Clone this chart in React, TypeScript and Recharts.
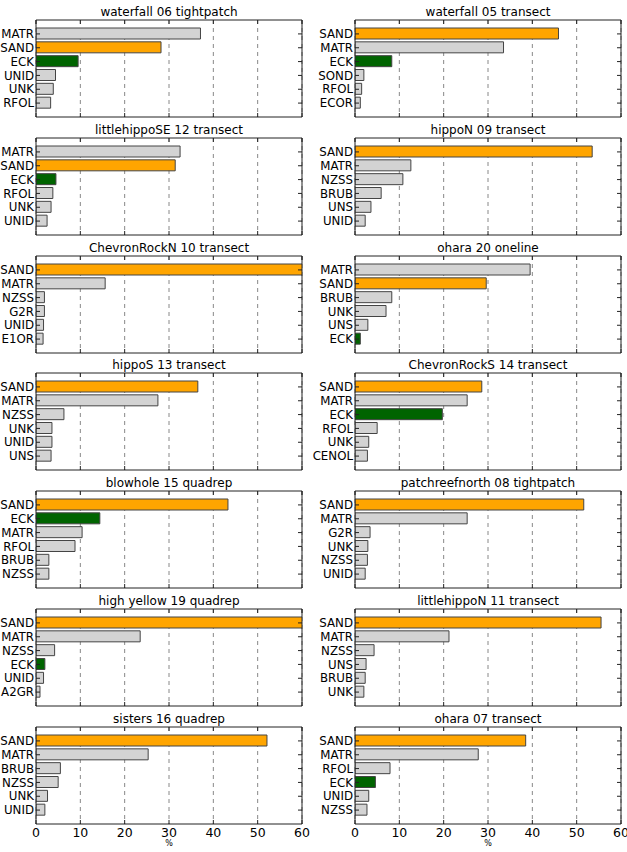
import { BarChart, Bar, XAxis, YAxis, CartesianGrid, Cell } from "recharts";

const panelTitles = [
  "waterfall 06 tightpatch",
  "waterfall 05 transect",
  "littlehippoSE 12 transect",
  "hippoN 09 transect",
  "ChevronRockN 10 transect",
  "ohara 20 oneline",
  "hippoS 13 transect",
  "ChevronRockS 14 transect",
  "blowhole 15 quadrep",
  "patchreefnorth 08 tightpatch",
  "high yellow 19 quadrep",
  "littlehippoN 11 transect",
  "sisters 16 quadrep",
  "ohara 07 transect",
];

const panelCategories = [
  ["MATR", "SAND", "ECK", "UNID", "UNK", "RFOL"],
  ["SAND", "MATR", "ECK", "SOND", "RFOL", "ECOR"],
  ["MATR", "SAND", "ECK", "RFOL", "UNK", "UNID"],
  ["SAND", "MATR", "NZSS", "BRUB", "UNS", "UNID"],
  ["SAND", "MATR", "NZSS", "G2R", "UNID", "E1OR"],
  ["MATR", "SAND", "BRUB", "UNK", "UNS", "ECK"],
  ["SAND", "MATR", "NZSS", "UNK", "UNID", "UNS"],
  ["SAND", "MATR", "ECK", "RFOL", "UNK", "CENOL"],
  ["SAND", "ECK", "MATR", "RFOL", "BRUB", "NZSS"],
  ["SAND", "MATR", "G2R", "UNK", "NZSS", "UNID"],
  ["SAND", "MATR", "NZSS", "ECK", "UNID", "A2GR"],
  ["SAND", "MATR", "NZSS", "UNS", "BRUB", "UNK"],
  ["SAND", "MATR", "BRUB", "NZSS", "UNK", "UNID"],
  ["SAND", "MATR", "RFOL", "ECK", "UNID", "NZSS"],
];

const panelValues = [
  [37.1, 28.2, 9.5, 4.4, 3.9, 3.3],
  [45.9, 33.5, 8.3, 2.0, 1.5, 1.2],
  [32.5, 31.4, 4.5, 3.8, 3.4, 2.5],
  [53.5, 12.6, 10.8, 5.9, 3.6, 2.3],
  [64.0, 15.6, 1.9, 1.9, 1.7, 1.6],
  [39.5, 29.6, 8.3, 7.0, 2.9, 1.2],
  [36.5, 27.5, 6.3, 3.6, 3.6, 3.4],
  [28.6, 25.3, 19.7, 5.0, 3.1, 2.8],
  [43.3, 14.4, 10.4, 8.8, 2.9, 2.9],
  [51.6, 25.3, 3.4, 2.9, 2.8, 2.3],
  [64.0, 23.5, 4.2, 2.0, 1.7, 0.9],
  [55.5, 21.2, 4.3, 2.5, 2.3, 2.0],
  [52.1, 25.3, 5.5, 5.0, 2.6, 2.0],
  [38.5, 27.8, 7.9, 4.6, 3.1, 2.7],
];

const xTicks = [0, 10, 20, 30, 40, 50, 60];

const FONT = "DejaVu Sans, sans-serif";
const FRAME = "#222";
const PLOT_W = 266;
const PLOT_H = 97;

function barColor(name: string) {
  if (name === "SAND") return "#ffa500";
  if (name === "ECK") return "#006400";
  return "#d3d3d3";
}

function Panel({ index }: { index: number }) {
  const col = index % 2;
  const row = Math.floor(index / 2);
  const isLast = row === 6;
  const data = panelCategories[index].map((name, i) => ({
    name,
    value: panelValues[index][i],
  }));

  const yAxisW = col === 0 ? 36 : 45;
  const rightM = col === 0 ? 15 : 5;
  const chartW = yAxisW + PLOT_W + rightM + 1;
  const chartH = 20 + PLOT_H + 30;
  const left = col === 0 ? 0 : 310;
  const top = Math.round(20 + row * 117.8) - 20;

  const bottomTick = (p: any) => (
    <g>
      <line x1={p.x} x2={p.x} y1={p.y} y2={p.y - 4} stroke={FRAME} />
      {isLast && (
        <text
          x={p.x}
          y={p.y + 13}
          textAnchor="middle"
          fontSize={12.5}
          fontFamily={FONT}
          fill="#000"
        >
          {p.payload.value}
        </text>
      )}
    </g>
  );

  const topTick = (p: any) => (
    <line x1={p.x} x2={p.x} y1={p.y} y2={p.y + 4} stroke={FRAME} />
  );

  const leftTick = (p: any) => (
    <g>
      <line x1={p.x + 2} x2={p.x + 6} y1={p.y} y2={p.y} stroke={FRAME} />
      <text
        x={p.x}
        y={p.y}
        dy="0.36em"
        textAnchor="end"
        fontSize={11.8}
        fontFamily={FONT}
        fill="#000"
      >
        {p.payload.value}
      </text>
    </g>
  );

  const rightTick = (p: any) => (
    <line x1={p.x} x2={p.x - 4} y1={p.y} y2={p.y} stroke={FRAME} />
  );

  return (
    <div style={{ position: "absolute", left, top, width: chartW, height: chartH }}>
      <div
        style={{
          position: "absolute",
          left: yAxisW,
          top: 6,
          width: PLOT_W,
          textAlign: "center",
          fontSize: 12,
          lineHeight: "12px",
          fontFamily: FONT,
          whiteSpace: "nowrap",
          color: "#000",
        }}
      >
        {panelTitles[index]}
      </div>
      <BarChart
        width={chartW}
        height={chartH}
        data={data}
        layout="vertical"
        barCategoryGap={0}
        margin={{ top: 19, right: rightM, bottom: 0, left: 0 }}
      >
        <CartesianGrid
          xAxisId="b"
          yAxisId="l"
          horizontal={false}
          stroke="#888"
          strokeDasharray="4 4"
        />
        <XAxis
          xAxisId="b"
          type="number"
          domain={[0, 60]}
          allowDataOverflow
          ticks={xTicks}
          interval={0}
          height={30}
          tickSize={0}
          tickMargin={0}
          tick={bottomTick}
          axisLine={{ stroke: FRAME }}
        />
        <XAxis
          xAxisId="t"
          orientation="top"
          type="number"
          domain={[0, 60]}
          allowDataOverflow
          ticks={xTicks}
          interval={0}
          height={1}
          tickSize={0}
          tickMargin={0}
          tick={topTick}
          axisLine={{ stroke: FRAME }}
        />
        <YAxis
          yAxisId="l"
          type="category"
          dataKey="name"
          width={yAxisW}
          interval={0}
          tickSize={0}
          tickMargin={2}
          padding={{ top: 7, bottom: 7 }}
          tick={leftTick}
          axisLine={{ stroke: FRAME }}
        />
        <YAxis
          yAxisId="r"
          orientation="right"
          type="category"
          dataKey="name"
          width={1}
          interval={0}
          tickSize={0}
          tickMargin={0}
          padding={{ top: 7, bottom: 7 }}
          tick={rightTick}
          axisLine={{ stroke: FRAME }}
        />
        <Bar
          dataKey="value"
          xAxisId="b"
          yAxisId="l"
          barSize={11}
          stroke="#444"
          strokeWidth={1}
          isAnimationActive={false}
        >
          {data.map((d) => (
            <Cell key={d.name} fill={barColor(d.name)} />
          ))}
        </Bar>
      </BarChart>
      {isLast && (
        <div
          style={{
            position: "absolute",
            left: yAxisW,
            top: 133,
            width: PLOT_W,
            textAlign: "center",
            fontSize: 8,
            lineHeight: "8px",
            fontFamily: FONT,
            color: "#000",
          }}
        >
          %
        </div>
      )}
    </div>
  );
}

export default function App() {
  return (
    <div
      style={{
        position: "absolute",
        left: 0,
        top: 0,
        width: 627,
        height: 852,
        background: "#fff",
      }}
    >
      {panelTitles.map((t, i) => (
        <Panel key={t} index={i} />
      ))}
    </div>
  );
}
